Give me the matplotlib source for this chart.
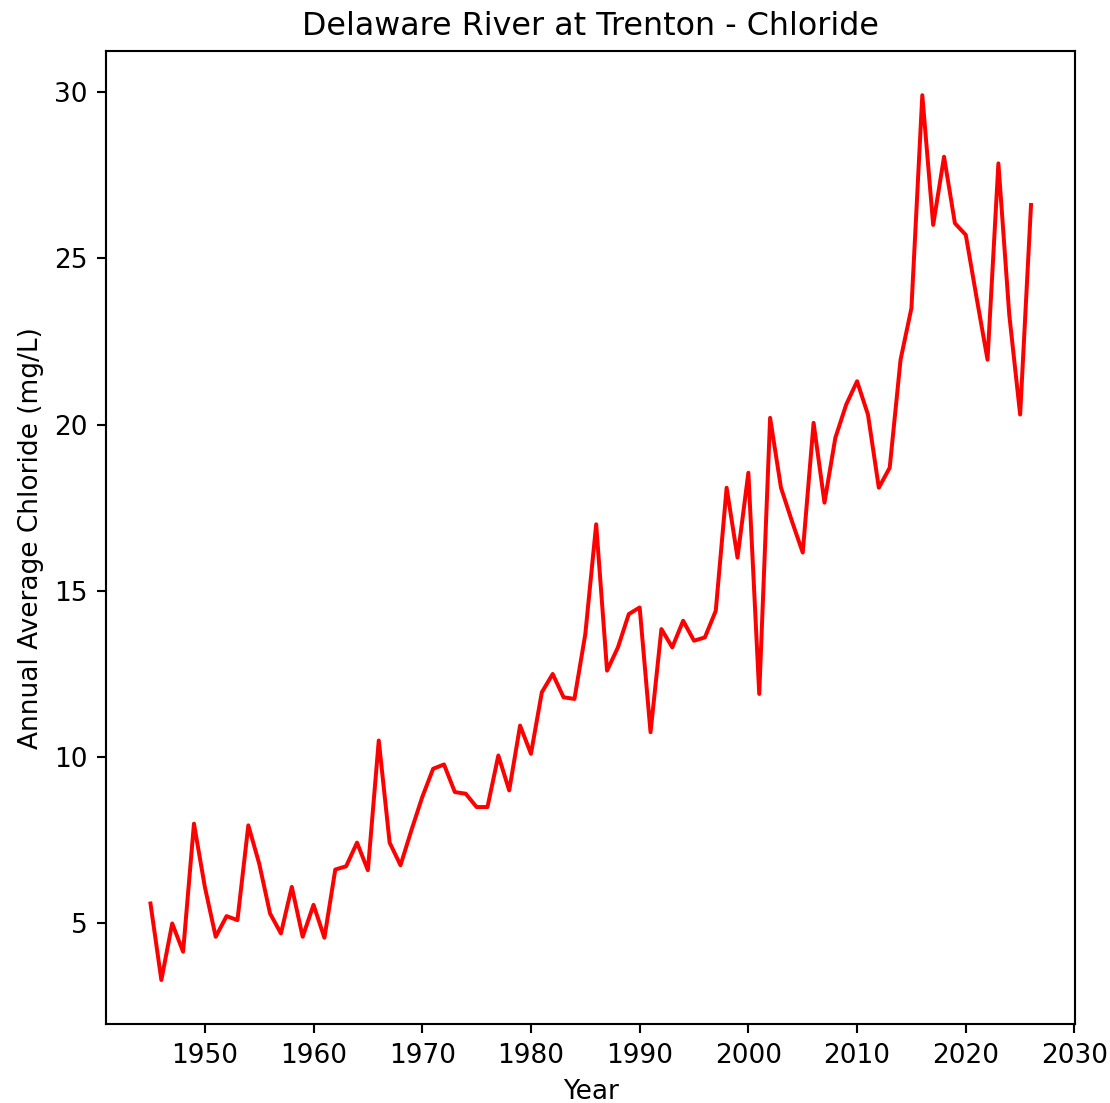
import matplotlib
matplotlib.use("Agg")
import matplotlib.pyplot as plt

years = list(range(1945, 2027))
chloride = [
    5.6, 3.3, 5.0, 4.15, 8.0, 6.1, 4.6, 5.22, 5.1, 7.95,
    6.8, 5.3, 4.7, 6.1, 4.6, 5.56, 4.57, 6.62, 6.72, 7.43,
    6.6, 10.5, 7.43, 6.75, 7.8, 8.8, 9.65, 9.78, 8.95, 8.9,
    8.5, 8.5, 10.05, 9.0, 10.95, 10.1, 11.95, 12.5, 11.8, 11.75,
    13.7, 17.0, 12.6, 13.3, 14.3, 14.5, 10.75, 13.85, 13.3, 14.1,
    13.5, 13.6, 14.4, 18.1, 16.0, 18.55, 11.9, 20.2, 18.1, 17.1,
    16.15, 20.05, 17.65, 19.6, 20.6, 21.3, 20.3, 18.1, 18.7, 21.95,
    23.5, 29.9, 26.0, 28.05, 26.05, 25.7, 23.8, 21.95, 27.85, 23.3,
    20.3, 26.6,
]

s = 1.27
plt.rcParams.update({
    "font.size": 10 * s,
    "lines.linewidth": 1.5 * s,
    "axes.linewidth": 0.8 * s,
    "xtick.major.size": 3.5 * s,
    "ytick.major.size": 3.5 * s,
    "xtick.major.width": 0.8 * s,
    "ytick.major.width": 0.8 * s,
    "xtick.major.pad": 3.5 * s,
    "ytick.major.pad": 3.5 * s,
    "axes.titlepad": 7.7,
    "axes.labelpad": 4 * s,
})

fig = plt.figure(figsize=(1110 / 150, 1103 / 150), dpi=150)
ax = fig.add_axes([0.0959, 0.0714, 0.8726, 0.8824])
ax.plot(years, chloride, color="red")
ax.set_title("Delaware River at Trenton - Chloride")
ax.set_xlabel("Year")
ax.set_ylabel("Annual Average Chloride (mg/L)")
fig.savefig("out.png", dpi=150)
